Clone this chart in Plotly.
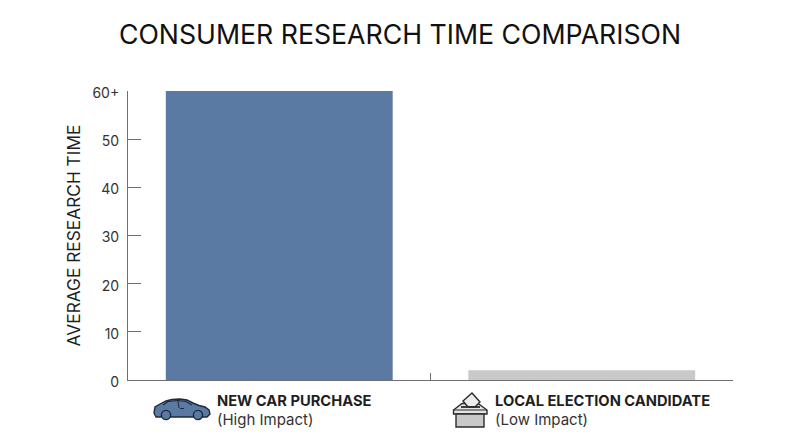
import plotly.graph_objects as go

# chart values
categories = ["NEW CAR PURCHASE", "LOCAL ELECTION CANDIDATE"]
impact_labels = ["(High Impact)", "(Low Impact)"]
research_time = [60, 2]
bar_colors = ["#5a7aa3", "#c9c9c9"]
tick_values = [0, 10, 20, 30, 40, 50, 60]
tick_labels = ["0", "10", "20", "30", "40", "50", "60+"]

# the page body adds an 8px margin around the figure
PAGE_MARGIN = 8
WIDTH = 800 - PAGE_MARGIN
HEIGHT = 447 - PAGE_MARGIN
PLOT_LEFT = 128
PLOT_RIGHT = 733
PLOT_TOP = 91
PLOT_BOTTOM = 380

FONT = "Inter, 'Open Sans', sans-serif"
TEXT_COLOR = "#1f1f1f"
AXIS_COLOR = "#6f6f6f"
ICON_LINE = "#1f2a3a"
ICON_GREY = "#2b2b2b"


# icons are placed in picture pixels, so convert them to paper coordinates
def px(x):
    return (x - PLOT_LEFT) / (PLOT_RIGHT - PLOT_LEFT)


def py(y):
    return (PLOT_BOTTOM - y) / (PLOT_BOTTOM - PLOT_TOP)


def make_path(points, close=True):
    path = "M " + " L ".join(f"{px(x):.5f},{py(y):.5f}" for x, y in points)
    return path + (" Z" if close else "")


def path_shape(points, fill="rgba(0,0,0,0)", line=ICON_LINE, width=1.4, close=True):
    return dict(type="path", xref="paper", yref="paper", path=make_path(points, close),
                fillcolor=fill, line=dict(color=line, width=width))


def circle_shape(cx, cy, r, fill, line=ICON_LINE):
    return dict(type="circle", xref="paper", yref="paper",
                x0=px(cx - r), x1=px(cx + r), y0=py(cy + r), y1=py(cy - r),
                fillcolor=fill, line=dict(color=line, width=1.4))


car_body = [(156, 417), (154, 413), (155, 407), (160, 404), (166, 401), (172, 399.5), (180, 399),
            (187, 400), (193, 403), (199, 405.5), (205, 407), (209, 410), (210, 414), (207, 417)]
car_window = [(163, 405), (168, 401.5), (178, 400.5), (186, 401.5), (192, 405)]
car_post = [(178, 400.5), (179, 408)]
car_handle = [(180, 408.5), (184, 408.5)]

# ballot box, drawn back to front so the ballot sits in the slot
lid = [(453.5, 410), (462, 403.5), (478, 403.5), (487, 410), (487, 414), (453.5, 414)]
box = [(456, 414), (484, 414), (484, 427), (456, 427)]
ballot = [(463, 401), (472, 393), (480, 402), (475, 407), (468, 407)]
slot = [(461, 407), (480, 407)]
lid_front = [(453.5, 410), (487, 410)]

icon_shapes = [
    path_shape(car_body, fill="#5a7aa3"),
    path_shape(car_window, close=False, width=1.2),
    path_shape(car_post, close=False, width=1.0),
    path_shape(car_handle, close=False, width=1.0),
    circle_shape(166, 415, 4.6, "#5a7aa3"),
    circle_shape(198, 415, 4.6, "#5a7aa3"),
    path_shape(lid, fill="#e4e4e4", line=ICON_GREY),
    path_shape(box, fill="#c9c9c9", line=ICON_GREY),
    path_shape(ballot, fill="#ececec", line=ICON_GREY),
    path_shape(slot, close=False, line=ICON_GREY, width=1.8),
    path_shape(lid_front, close=False, line=ICON_GREY, width=1.0),
]

fig = go.Figure(go.Bar(x=categories, y=research_time, width=0.75,
                       marker=dict(color=bar_colors, line=dict(width=0))))

label_x = [217, 495]
annotations = []
for name, impact, x in zip(categories, impact_labels, label_x):
    annotations.append(dict(text=f"<b>{name}</b>", xref="paper", yref="paper", x=px(x), y=py(401),
                            xanchor="left", yanchor="middle", showarrow=False, xshift=-2,
                            font=dict(size=14.7, color=TEXT_COLOR)))
    annotations.append(dict(text=impact, xref="paper", yref="paper", x=px(x), y=py(419),
                            xanchor="left", yanchor="middle", showarrow=False, xshift=-2,
                            font=dict(size=15, color="#333333")))

fig.update_layout(
    width=WIDTH,
    height=HEIGHT,
    margin=dict(l=PLOT_LEFT - PAGE_MARGIN, r=800 - PLOT_RIGHT,
                t=PLOT_TOP - PAGE_MARGIN, b=447 - PLOT_BOTTOM),
    paper_bgcolor="white",
    plot_bgcolor="white",
    font=dict(family=FONT, color=TEXT_COLOR),
    title=dict(text="CONSUMER RESEARCH TIME COMPARISON", x=(400 - PAGE_MARGIN) / WIDTH, xanchor="center",
               y=1 - (35 - PAGE_MARGIN) / HEIGHT, yanchor="middle", font=dict(size=26.7, color="#111111")),
    shapes=icon_shapes,
    annotations=annotations,
    showlegend=False,
)
fig.update_yaxes(
    range=[0, 60], tickvals=tick_values, ticktext=tick_labels, ticks="inside", ticklen=13,
    tickcolor=AXIS_COLOR, showline=True, linecolor=AXIS_COLOR, showgrid=False, zeroline=False,
    ticklabelstandoff=5, ticklabelshift=2, tickfont=dict(size=14, color="#333333"),
    title=dict(text="AVERAGE RESEARCH TIME", font=dict(size=17.3, color=TEXT_COLOR), standoff=7),
)
fig.update_xaxes(
    showticklabels=False, ticks="inside", ticklen=7, tickson="boundaries", tickcolor=AXIS_COLOR,
    showline=True, linecolor=AXIS_COLOR, showgrid=False, zeroline=False,
)

fig.write_html("out.html")
